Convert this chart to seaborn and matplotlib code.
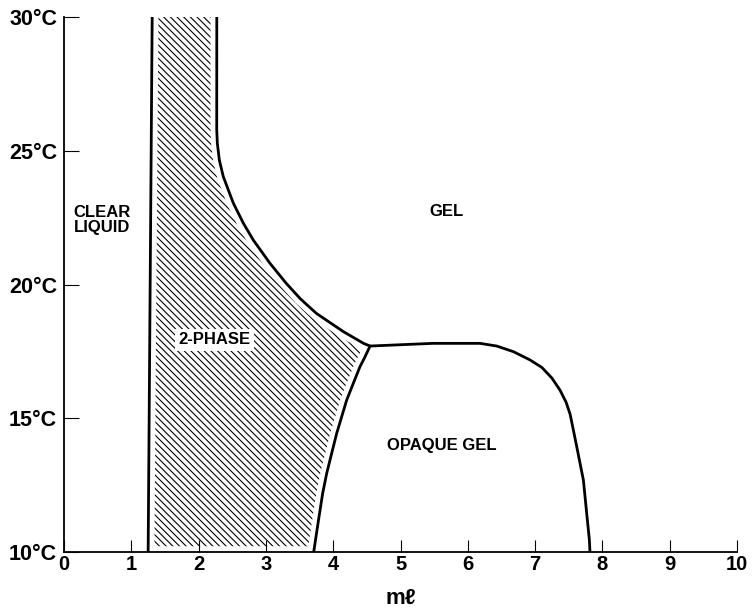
import matplotlib
matplotlib.use("Agg")
import matplotlib.pyplot as plt
import seaborn as sns

# ---------------- data ----------------
# clear liquid / 2-phase boundary (nearly vertical line)
clear_x = [1.31, 1.25]
clear_y = [30.0, 10.0]

# 2-phase / gel boundary (right side of hatched region)
twophase_x = [2.27, 2.269, 2.278, 2.308, 2.367, 2.516, 2.665, 2.813, 3.061,
              3.30, 3.51, 3.75, 4.15, 4.45, 4.547]
twophase_y = [30.0, 25.78, 25.28, 24.65, 24.03, 23.04, 22.29, 21.66, 20.79,
              20.05, 19.47, 18.92, 18.24, 17.80, 17.70]

# opaque gel boundary (bottom left, up to junction, across the top, down right)
opaque_x = [3.71, 3.744, 3.789, 3.843, 3.903, 3.977, 4.052, 4.126, 4.200,
            4.299, 4.398, 4.473, 4.547,
            5.48, 6.181, 6.429, 6.677, 6.924, 7.10, 7.25, 7.37, 7.46, 7.52,
            7.568, 7.618, 7.667, 7.717, 7.766, 7.806, 7.815]
opaque_y = [10.0, 10.57, 11.32, 12.19, 12.94, 13.69, 14.44, 15.06, 15.68,
            16.31, 16.93, 17.30, 17.70,
            17.80, 17.80, 17.70, 17.49, 17.18, 16.90, 16.50, 16.05, 15.60, 15.15,
            14.56, 13.94, 13.32, 12.69, 11.45, 10.45, 10.0]
junction_idx = 12

x_ticks = [0, 1, 2, 3, 4, 5, 6, 7, 8, 9, 10]
y_ticks = [10, 15, 20, 25, 30]
y_tick_labels = ["10°C", "15°C", "20°C", "25°C", "30°C"]

region_labels = ["CLEAR\nLIQUID", "GEL", "2-PHASE", "OPAQUE GEL"]
region_x = [0.565, 5.69, 2.24, 5.61]
region_y = [22.41, 22.72, 17.93, 14.0]

# ---------------- style ----------------
sns.set_style("ticks")
plt.rcParams["font.family"] = ["Liberation Sans", "DejaVu Sans"]
plt.rcParams["font.weight"] = "bold"
plt.rcParams["text.color"] = "black"
plt.rcParams["axes.labelcolor"] = "black"
plt.rcParams["xtick.color"] = "black"
plt.rcParams["ytick.color"] = "black"
plt.rcParams["hatch.linewidth"] = 0.8
plt.rcParams["hatch.color"] = "black"

fig = plt.figure(figsize=(7.54, 6.08), dpi=100)
ax = fig.add_axes([0.0849, 0.0921, 0.8926, 0.8799])

# hatched 2-phase region
poly_x = twophase_x + opaque_x[junction_idx::-1] + clear_x[::-1]
poly_y = twophase_y + opaque_y[junction_idx::-1] + clear_y[::-1]
ax.fill(poly_x, poly_y, facecolor="white", edgecolor="black",
        hatch="\\\\\\\\\\", linewidth=0, zorder=1)

curves = [(clear_x, clear_y), (twophase_x, twophase_y), (opaque_x, opaque_y)]

# white gaps between hatch and boundaries
for xs, ys in curves:
    sns.lineplot(x=xs, y=ys, sort=False, estimator=None, color="white",
                 lw=9, ax=ax, zorder=3)
ax.axhline(10, color="white", lw=9, zorder=3)

# boundary lines
for xs, ys in curves:
    sns.lineplot(x=xs, y=ys, sort=False, estimator=None, color="black",
                 lw=2.0, ax=ax, zorder=4)

# region labels
for lab, tx, ty in zip(region_labels, region_x, region_y):
    kw = {}
    if lab == "2-PHASE":
        kw["bbox"] = dict(boxstyle="square,pad=0.2", facecolor="white",
                          edgecolor="none")
    ax.text(tx, ty, lab, ha="center", va="center", fontsize=12,
            fontweight="bold", linespacing=1.0, color="black", zorder=6, **kw)

# axes
ax.set_xlim(0, 10)
ax.set_ylim(10, 30)
ax.set_xticks(x_ticks)
ax.set_xticklabels([str(v) for v in x_ticks], fontweight="bold")
ax.set_yticks(y_ticks)
ax.set_yticklabels(y_tick_labels, fontweight="bold")
ax.tick_params(axis="x", direction="in", length=9, width=0.8,
               labelsize=14.5, pad=2, colors="black")
ax.tick_params(axis="y", direction="in", length=11, width=0.8,
               labelsize=15.5, pad=5, colors="black")
ax.set_xlabel("mℓ", fontsize=16, fontweight="bold", labelpad=10,
              color="black")
ax.set_ylabel("")

for side in ["top", "right"]:
    ax.spines[side].set_visible(False)
for side in ["left", "bottom"]:
    ax.spines[side].set_linewidth(1.3)
    ax.spines[side].set_color("black")
    ax.spines[side].set_zorder(10)
ax.xaxis.set_zorder(10)
ax.yaxis.set_zorder(10)

fig.savefig("out.png", dpi=100)
